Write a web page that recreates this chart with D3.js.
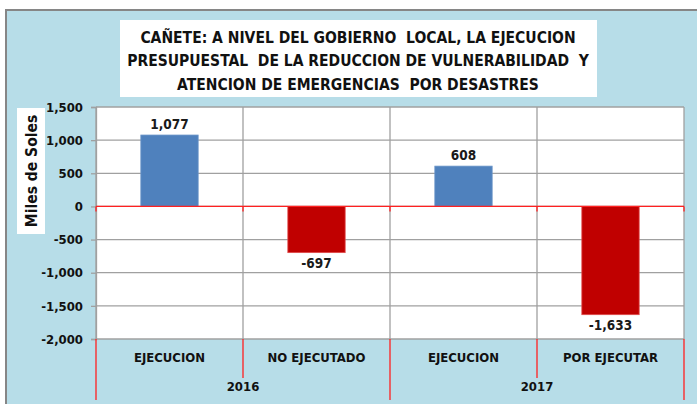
<!DOCTYPE html>
<html>
<head>
<meta charset="utf-8">
<script src="https://cdn.jsdelivr.net/npm/d3@7"></script>
<style>
  body { margin: 0; background: #fff; }
  text { font-family: "Liberation Sans Narrow", "DejaVu Sans Condensed", "Liberation Sans", sans-serif; font-weight: bold; white-space: pre; }
</style>
</head>
<body>
<svg width="697" height="404"></svg>
<script>
const categories = ["EJECUCION", "NO EJECUTADO", "EJECUCION", "POR EJECUTAR"];
const years = ["2016", "2017"];
const values = [1077, -697, 608, -1633];
const yTicks = [-2000, -1500, -1000, -500, 0, 500, 1000, 1500];
const titleLines = [
    "CAÑETE: A NIVEL DEL GOBIERNO  LOCAL, LA EJECUCION",
    "PRESUPUESTAL  DE LA REDUCCION DE VULNERABILIDAD  Y",
    "ATENCION DE EMERGENCIAS  POR DESASTRES"
];

const plot = {left: 96, right: 684, top: 107, bottom: 339};
const svg = d3.select("svg");
const fmt = d3.formatLocale({decimal: ".", thousands: ",", grouping: [3], currency: ["", ""], minus: "-"}).format(",");

// chart background
svg.append("rect")
    .attr("x", 6).attr("y", 10)
    .attr("width", 700).attr("height", 400)
    .attr("fill", "#b7dde8")
    .attr("stroke", "#868686")
    .attr("stroke-width", 2);

// title box
svg.append("rect")
    .attr("x", 120).attr("y", 20)
    .attr("width", 477).attr("height", 77)
    .attr("fill", "#fff");
svg.append("g").selectAll("text")
    .data(titleLines)
    .enter().append("text")
    .attr("x", 358)
    .attr("y", (d, i) => 42.5 + i * 23.5)
    .attr("text-anchor", "middle")
    .attr("font-size", 15.5)
    .attr("fill", "#111")
    .text(d => d);

const x = d3.scaleBand()
    .domain(d3.range(categories.length))
    .range([plot.left, plot.right]);
const y = d3.scaleLinear()
    .domain([-2000, 1500])
    .range([plot.bottom, plot.top]);

// plot area
svg.append("rect")
    .attr("x", plot.left).attr("y", plot.top)
    .attr("width", plot.right - plot.left).attr("height", plot.bottom - plot.top)
    .attr("fill", "#fff");

// gridlines
svg.append("g").selectAll("line")
    .data(yTicks)
    .enter().append("line")
    .attr("x1", plot.left).attr("x2", plot.right)
    .attr("y1", d => y(d)).attr("y2", d => y(d))
    .attr("stroke", "#a0a0a0")
    .attr("stroke-width", 1.3);
svg.append("g").selectAll("line")
    .data(d3.range(categories.length + 1))
    .enter().append("line")
    .attr("x1", i => plot.left + i * x.step()).attr("x2", i => plot.left + i * x.step())
    .attr("y1", plot.top).attr("y2", plot.bottom)
    .attr("stroke", "#a0a0a0")
    .attr("stroke-width", 1.3);

// y axis
const yAxis = svg.append("g")
    .attr("transform", `translate(${plot.left},0)`)
    .call(d3.axisLeft(y).tickValues(yTicks).tickSize(5).tickPadding(8).tickFormat(fmt));
yAxis.select(".domain").attr("stroke", "#a0a0a0").attr("stroke-width", 1.3);
yAxis.selectAll(".tick line").attr("stroke", "#a0a0a0").attr("stroke-width", 1.3);
yAxis.selectAll(".tick text").attr("font-size", 13).attr("fill", "#111")
    .style("font-family", "'Liberation Sans Narrow', 'DejaVu Sans Condensed', sans-serif")
    .style("font-weight", "bold");

// y label
svg.append("rect")
    .attr("x", 17).attr("y", 108)
    .attr("width", 28).attr("height", 126)
    .attr("fill", "#fff");
svg.append("text")
    .attr("transform", "translate(37,171) rotate(-90)")
    .attr("text-anchor", "middle")
    .attr("font-size", 15.5)
    .attr("fill", "#111")
    .text("Miles de Soles");

// bars
const barW = x.bandwidth() * 0.39;
svg.append("g").selectAll("rect")
    .data(values)
    .enter().append("rect")
    .attr("x", (d, i) => x(i) + (x.bandwidth() - barW) / 2)
    .attr("y", d => y(Math.max(0, d)))
    .attr("width", barW)
    .attr("height", d => Math.abs(y(d) - y(0)))
    .attr("fill", d => d >= 0 ? "#4f81bd" : "#c00000")
    .attr("stroke", d => d >= 0 ? "#6a95c8" : "#e04a4a")
    .attr("stroke-width", 0.8);

// value labels
svg.append("g").selectAll("text")
    .data(values)
    .enter().append("text")
    .attr("x", (d, i) => x(i) + x.bandwidth() / 2)
    .attr("y", d => d >= 0 ? y(d) - 6 : y(d) + 15)
    .attr("text-anchor", "middle")
    .attr("font-size", 13.5)
    .attr("fill", "#1a1a1a")
    .text(d => fmt(d));

// zero line with ticks
svg.append("line")
    .attr("x1", plot.left).attr("x2", plot.right)
    .attr("y1", y(0)).attr("y2", y(0))
    .attr("stroke", "#ff2020")
    .attr("stroke-width", 1.3);
svg.append("g").selectAll("line")
    .data(d3.range(categories.length + 1))
    .enter().append("line")
    .attr("x1", i => plot.left + i * x.step()).attr("x2", i => plot.left + i * x.step())
    .attr("y1", y(0)).attr("y2", y(0) + 5)
    .attr("stroke", "#ff2020")
    .attr("stroke-width", 1.3);

// category axis below the plot
svg.append("g").selectAll("line")
    .data(d3.range(categories.length + 1))
    .enter().append("line")
    .attr("x1", i => plot.left + i * x.step()).attr("x2", i => plot.left + i * x.step())
    .attr("y1", plot.bottom)
    .attr("y2", i => i % 2 === 0 ? 400 : 378)
    .attr("stroke", "#ff2020")
    .attr("stroke-width", 1.3);
svg.append("g").selectAll("text")
    .data(categories)
    .enter().append("text")
    .attr("x", (d, i) => x(i) + x.bandwidth() / 2)
    .attr("y", 362)
    .attr("text-anchor", "middle")
    .attr("font-size", 13)
    .attr("fill", "#111")
    .text(d => d);
svg.append("g").selectAll("text")
    .data(years)
    .enter().append("text")
    .attr("x", (d, i) => x(i * 2) + x.step())
    .attr("y", 391)
    .attr("text-anchor", "middle")
    .attr("font-size", 13)
    .attr("fill", "#111")
    .text(d => d);
</script>
</body>
</html>
